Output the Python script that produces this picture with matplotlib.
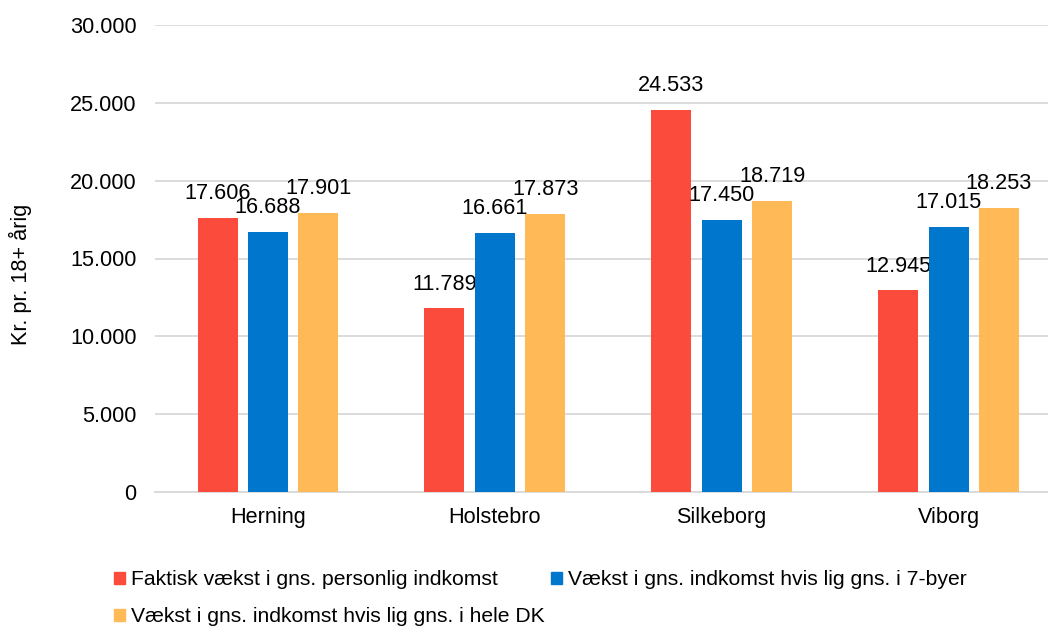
import numpy as np
import matplotlib
matplotlib.use('Agg')
import matplotlib.pyplot as plt
from matplotlib.patches import Patch

plt.rcParams['font.family'] = ['Liberation Sans', 'DejaVu Sans']

byer = ['Herning', 'Holstebro', 'Silkeborg', 'Viborg']
faktisk = [17606, 11789, 24533, 12945]      # faktisk vaekst
syv_byer = [16688, 16661, 17450, 17015]     # hvis lig gns. i 7-byer
hele_dk = [17901, 17873, 18719, 18253]      # hvis lig gns. i hele DK

serier = ['Faktisk vækst i gns. personlig indkomst',
          'Vækst i gns. indkomst hvis lig gns. i 7-byer',
          'Vækst i gns. indkomst hvis lig gns. i hele DK']
farver = ['#FA4B3C', '#0077CC', '#FFB957']
yticks = [0, 5000, 10000, 15000, 20000, 25000, 30000]

fs = 15.6

def dk(v):
    return '{:,.0f}'.format(v).replace(',', '.')

fig = plt.figure(figsize=(10.48, 6.28), dpi=100)
ax = fig.add_axes([154.5/1048, 1-492/628, 907.5/1048, 467/628])

x = np.arange(len(byer))
w = 0.176
off = 0.222
for i, (vals, c) in enumerate(zip([faktisk, syv_byer, hele_dk], farver)):
    pos = x + (i-1)*off
    ax.bar(pos, vals, width=w, color=c, zorder=3)
    for p, v in zip(pos, vals):
        ax.annotate(dk(v), (p, v), xytext=(0, 10), textcoords='offset points',
                    ha='center', va='bottom', fontsize=fs, color='#000000')

ax.set_xlim(-0.5, 3.5)
ax.set_ylim(0, 30000)
ax.set_yticks(yticks)
ax.set_yticklabels([dk(v) for v in yticks], fontsize=fs)
ax.set_xticks(x)
ax.set_xticklabels(byer, fontsize=fs)
ax.tick_params(axis='both', length=0)
ax.tick_params(axis='y', pad=13)
ax.tick_params(axis='x', pad=11)
ax.grid(axis='y', color='#D9D9D9', linewidth=1.3, zorder=0)
for s in ['top', 'right', 'left']:
    ax.spines[s].set_visible(False)
ax.spines['bottom'].set_color('#D9D9D9')
ax.spines['bottom'].set_linewidth(1.3)

ax.set_ylabel('Kr. pr. 18+ årig', fontsize=fs)
ax.yaxis.set_label_coords(-0.135, 0.465)

h = [Patch(color=c) for c in farver]
fig.legend([h[0], h[2], h[1]], [serier[0], serier[2], serier[1]], ncol=2,
           loc='upper left', bbox_to_anchor=(106/1048, 1-562/628), frameon=False,
           fontsize=15.2, handlelength=0.5, handleheight=0.5, handletextpad=0.3,
           columnspacing=0.3, labelspacing=0.85, borderaxespad=0)

fig.savefig('out.png', dpi=100)
